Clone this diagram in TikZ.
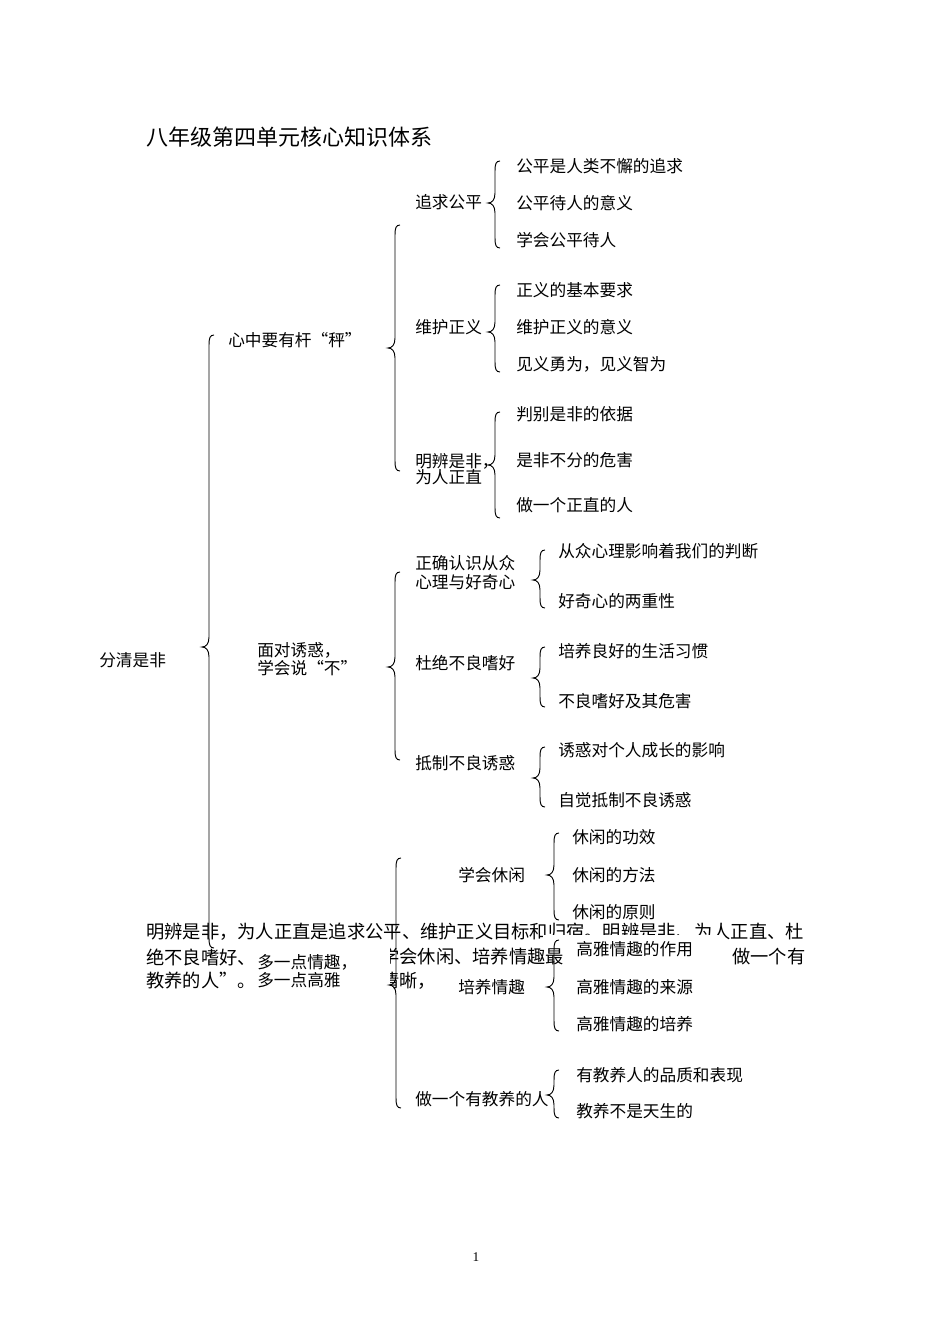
\documentclass[tikz,border=0pt]{standalone}
\usepackage{fontspec}
\setmainfont{Liberation Serif}
\newfontfamily\cjk{Noto Sans CJK SC}
\tikzset{
  t/.style={anchor=west, inner sep=0pt, font=\cjk\fontsize{12.5}{15}\selectfont},
  tt/.style={anchor=west, inner sep=0pt, align=left},
  para/.style={anchor=west, inner sep=0pt, font=\cjk\fontsize{13.7}{16}\selectfont},
  ttl/.style={anchor=west, inner sep=0pt, font=\cjk\fontsize{16.5}{18}\selectfont},
  br/.style={draw=black, line width=0.7pt},
  cover/.style={fill=white, draw=none}
}
\newcommand{\brc}[4]{%
  \draw[br] ({#1+5},#2) .. controls ({#1+1},#2) and (#1,{#2+3}) .. (#1,{#2+10})
    -- (#1,{#3-10}) .. controls (#1,{#3-3}) and ({#1-3},#3) .. ({#1-7},#3)
    .. controls ({#1-3},#3) and (#1,{#3+3}) .. (#1,{#3+10})
    -- (#1,{#4-10}) .. controls (#1,{#4-3}) and ({#1+1},#4) .. ({#1+5},#4);}
\begin{document}
\begin{tikzpicture}[x=0.75pt,y=-0.75pt]
\useasboundingbox (0,0) rectangle (950,1344);
\fill[white] (0,0) rectangle (950,1344);

% title
\node[ttl] (title) at (146,137) {八年级第四单元核心知识体系};

% paragraph (behind)
\node[para] (p1) at (146,932) {明辨是非，为人正直是追求公平、维护正义目标和归宿。明辨是非、为人正直、杜};
\node[para] (p2a) at (146,957) {绝不良嗜好、};
\node[para] (p2b) at (381,957) {学会休闲、培养情趣最};
\node[para] (p2c) at (732,957) {做一个有};
\node[para] (p3a) at (146,981) {教养的人”。};
\node[para] (p3b) at (381,981) {清晰，};

% white text boxes over the paragraph
\fill[cover] (250,944) rectangle (390,995);
\node[tt, font=\cjk\fontsize{12.5}{13.5}\selectfont] (n3) at (257,971) {多一点情趣，\\多一点高雅};
\fill[cover] (543,935) rectangle (722,944);
\fill[cover] (565,935) rectangle (722,963);
\node[t] (c21) at (576,949) {高雅情趣的作用};

% level 1
\node[t] (root) at (99,660) {分清是非};
\brc{209}{335}{647}{948}

% level 2
\node[t] (n1) at (228,340) {心中要有杆“秤”};
\node[tt, font=\cjk\fontsize{12.5}{13.5}\selectfont] (n2) at (257,659) {面对诱惑，\\学会说“不”};

\brc{395}{225}{348}{471}
\brc{395}{572}{667}{760}
\brc{396}{858}{985}{1108}

% group A
\node[t] (a1) at (415,202) {追求公平};
\brc{495}{161}{203}{248}
\node[t] (a11) at (516,166) {公平是人类不懈的追求};
\node[t] (a12) at (516,203) {公平待人的意义};
\node[t] (a13) at (516,240) {学会公平待人};

\node[t] (a2) at (415,327) {维护正义};
\brc{495}{285}{332}{372}
\node[t] (a21) at (516,290) {正义的基本要求};
\node[t] (a22) at (516,327) {维护正义的意义};
\node[t] (a23) at (516,364) {见义勇为，见义智为};

\node[tt, font=\cjk\fontsize{12.5}{12}\selectfont] (a3) at (415,469) {明辨是非，\\为人正直};
\brc{495}{412}{465}{518}
\node[t] (a31) at (516,414) {判别是非的依据};
\node[t] (a32) at (516,460) {是非不分的危害};
\node[t] (a33) at (516,505) {做一个正直的人};

% group B
\node[tt, font=\cjk\fontsize{12.5}{14.25}\selectfont] (b1) at (415,573) {正确认识从众\\心理与好奇心};
\brc{540}{550}{580}{608}
\node[t] (b11) at (558,551) {从众心理影响着我们的判断};
\node[t] (b12) at (558,601) {好奇心的两重性};

\node[t] (b2) at (415,663) {杜绝不良嗜好};
\brc{540}{647}{678}{707}
\node[t] (b21) at (558,651) {培养良好的生活习惯};
\node[t] (b22) at (558,701) {不良嗜好及其危害};

\node[t] (b3) at (415,763) {抵制不良诱惑};
\brc{540}{747}{778}{807}
\node[t] (b31) at (558,750) {诱惑对个人成长的影响};
\node[t] (b32) at (558,800) {自觉抵制不良诱惑};

% group C
\node[t] (c1) at (458,875) {学会休闲};
\brc{554}{833}{875}{920}
\node[t] (c11) at (572,837) {休闲的功效};
\node[t] (c12) at (572,875) {休闲的方法};
\node[t] (c13) at (572,912) {休闲的原则};

\node[t] (c2) at (458,987) {培养情趣};
\brc{554}{940}{987}{1031}
\node[t] (c22) at (576,987) {高雅情趣的来源};
\node[t] (c23) at (576,1024) {高雅情趣的培养};

\node[t] (c3) at (415,1099) {做一个有教养的人};
\brc{554}{1070}{1095}{1118}
\node[t] (c31) at (576,1075) {有教养人的品质和表现};
\node[t] (c32) at (576,1111) {教养不是天生的};

% page number
\node[inner sep=0pt, font=\fontsize{10}{12}\selectfont] (pg) at (476,1257) {1};
\end{tikzpicture}
\end{document}
